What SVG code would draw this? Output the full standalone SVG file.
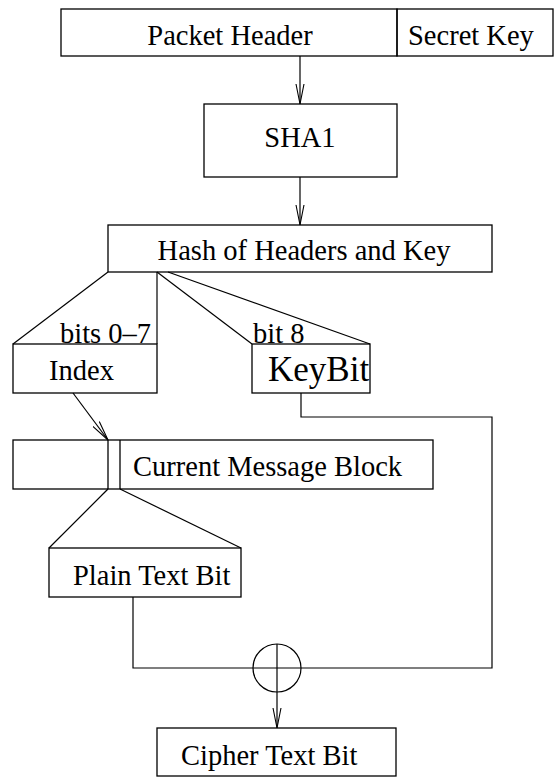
<svg xmlns="http://www.w3.org/2000/svg" width="554" height="777" viewBox="0 0 554 777">
<style>
.box{fill:none;stroke:#000;stroke-width:1.3}
.ln{fill:none;stroke:#000;stroke-width:1.2}
text{font-family:"Liberation Serif","Times New Roman",serif;font-size:28.5px;fill:#000}
.mid{text-anchor:middle}
</style>
<defs>
<marker id="v" markerUnits="userSpaceOnUse" markerWidth="22" markerHeight="10" refX="20" refY="4.5" orient="auto">
<path d="M0,0.5 L20,4.5 L0,8.5" fill="none" stroke="#000" stroke-width="1.1"/>
</marker>
</defs>
<rect width="554" height="777" fill="#fff"/>
<g id="packet-header">
<rect class="box" x="61" y="9" width="336" height="47"/>
<text class="mid" x="230" y="45">Packet Header</text>
</g>
<g id="secret-key">
<rect class="box" x="397" y="9" width="156" height="47"/>
<text x="408" y="45">Secret Key</text>
</g>
<g id="sha1">
<rect class="box" x="204" y="104" width="193" height="73"/>
<text class="mid" x="300" y="147">SHA1</text>
</g>
<g id="hash">
<rect class="box" x="108" y="225" width="384" height="47"/>
<text class="mid" x="304" y="260">Hash of Headers and Key</text>
</g>
<g id="index">
<rect class="box" x="13" y="344" width="144" height="49"/>
<text x="60" y="343">bits 0–7</text>
<text x="49" y="380">Index</text>
</g>
<g id="keybit">
<rect class="box" x="252" y="344" width="118" height="49"/>
<text x="253" y="343">bit 8</text>
<text x="268" y="381" style="font-size:35px">KeyBit</text>
</g>
<g id="message-block">
<rect class="box" x="13" y="440" width="420" height="49"/>
<line class="box" x1="108" y1="440" x2="108" y2="489"/>
<line class="box" x1="120" y1="440" x2="120" y2="489"/>
<text x="133" y="476">Current Message Block</text>
</g>
<g id="plain-text-bit">
<rect class="box" x="49" y="548" width="192" height="49"/>
<text x="73" y="585">Plain Text Bit</text>
</g>
<g id="xor">
<circle class="ln" cx="277" cy="668" r="24"/>
</g>
<g id="cipher-text-bit">
<rect class="box" x="157" y="728" width="239" height="48"/>
<text x="181" y="765">Cipher Text Bit</text>
</g>
<g id="connectors">
<line class="ln" x1="300" y1="56" x2="300" y2="104" marker-end="url(#v)"/>
<line class="ln" x1="300" y1="177" x2="300" y2="225" marker-end="url(#v)"/>
<line class="ln" x1="108" y1="272" x2="13" y2="344"/>
<line class="ln" x1="157" y1="272" x2="157" y2="344"/>
<line class="ln" x1="157" y1="272" x2="252" y2="344"/>
<line class="ln" x1="168" y1="272" x2="370" y2="344"/>
<line class="ln" x1="73" y1="393" x2="108" y2="440" marker-end="url(#v)"/>
<line class="ln" x1="108" y1="489" x2="49" y2="548"/>
<line class="ln" x1="120" y1="489" x2="241" y2="548"/>
<polyline class="ln" points="301,393 301,417 492,417 492,668 133,668 133,597"/>
<line class="ln" x1="277" y1="644" x2="277" y2="728" marker-end="url(#v)"/>
</g>
</svg>
